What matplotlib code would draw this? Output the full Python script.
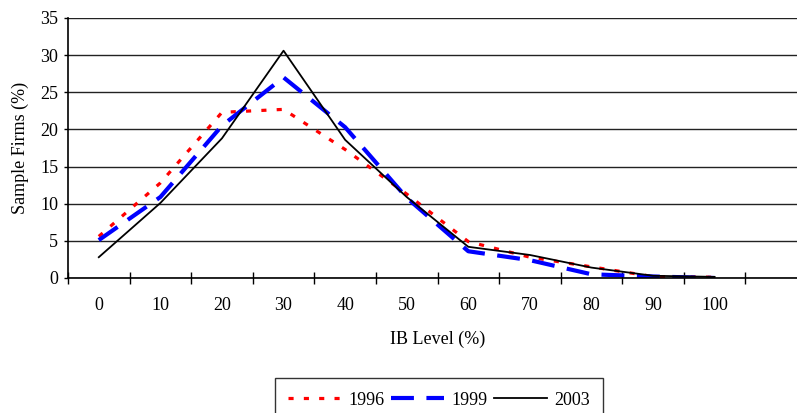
import numpy as np
import matplotlib.pyplot as plt

# IB level categories and share of sample firms (%)
levels = ["0", "10", "20", "30", "40", "50", "60", "70", "80", "90", "100"]
y1996 = [5.6, 12.8, 22.3, 22.7, 17.3, 11.3, 4.9, 2.8, 1.5, 0.2, 0.1]
y1999 = [5.1, 10.9, 20.5, 27.0, 20.3, 10.8, 3.6, 2.4, 0.5, 0.2, 0.0]
y2003 = [2.8, 10.1, 18.8, 30.6, 18.6, 10.9, 4.2, 3.1, 1.4, 0.3, 0.15]

plt.rcParams['font.family'] = ['Liberation Serif', 'DejaVu Serif']
plt.rcParams['font.size'] = 13

fig = plt.figure(figsize=(7.97, 4.13), dpi=100)
# the plot area runs past the right edge of the picture (cropped original)
ax = fig.add_axes([68/797, 1-278/413, 739/797, 260/413])

x = np.arange(len(levels))
ax.plot(x, y1996, color='red', lw=2.3, dashes=(1.6, 3.2), label='1996')
ax.plot(x, y1999, color='blue', lw=3.0, dashes=(5.5, 3.0), label='1999')
ax.plot(x, y2003, color='black', lw=1.3, label='2003')

ax.set_xlim(-0.5, 11.5)
ax.set_ylim(0, 35)
ax.set_yticks(np.arange(0, 36, 5))
ax.yaxis.grid(True, color='#222222', lw=1.0)
ax.set_axisbelow(True)

# category axis: ticks between categories, labels centred below
ax.set_xticks(np.arange(-0.5, 11.0, 1.0))
ax.set_xticklabels([])
ax.set_xticks(x, minor=True)
ax.set_xticklabels(levels, minor=True)
ax.tick_params(axis='x', which='major', direction='inout', length=9, width=1)
ax.tick_params(axis='x', which='minor', length=0, pad=14)
ax.tick_params(axis='y', direction='out', length=3, width=1, pad=4)

for s in ['top', 'right']:
    ax.spines[s].set_visible(False)
for s in ['left', 'bottom']:
    ax.spines[s].set_linewidth(1.2)

ax.set_xlabel('IB Level (%)', labelpad=12)
ax.set_ylabel('Sample Firms (%)', labelpad=8)

# legend box runs off the bottom edge, as in the original
fig.legend(loc='upper center', bbox_to_anchor=(439/797, 1-378/413), ncol=3,
           frameon=True, fancybox=False, edgecolor='black', handlelength=2.9,
           handletextpad=0.4, columnspacing=0.4, borderpad=0.75,
           borderaxespad=0)

fig.savefig('out.png', dpi=100)
